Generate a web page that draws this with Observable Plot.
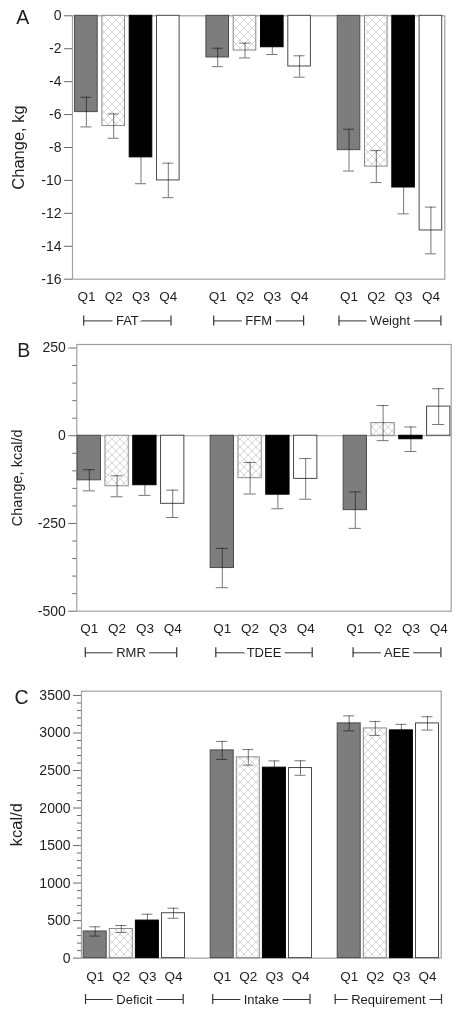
<!DOCTYPE html>
<html>
<head>
<meta charset="utf-8">
<script src="https://cdn.jsdelivr.net/npm/d3@7"></script>
<script src="https://cdn.jsdelivr.net/npm/@observablehq/plot@0.6"></script>
<style>
  html, body { margin: 0; padding: 0; background: #fff; }
  #chart svg { display: block; }
</style>
</head>
<body>
<div id="chart"></div>
<script>
// ---------- data ----------
const quartiles = ["Q1", "Q2", "Q3", "Q4"];

// Panel A: change, kg
const groupsA = ["FAT", "FFM", "Weight"];
const fatMean = [-5.85, -6.7, -8.6, -10.0];
const fatSE = [0.9, 0.74, 1.6, 1.05];
const ffmMean = [-2.53, -2.11, -1.91, -3.08];
const ffmSE = [0.56, 0.45, 0.44, 0.65];
const weightMean = [-8.16, -9.16, -10.43, -13.04];
const weightSE = [1.27, 0.97, 1.6, 1.42];
const ticksA = [-16, -14, -12, -10, -8, -6, -4, -2, 0];

// Panel B: change, kcal/d
const groupsB = ["RMR", "TDEE", "AEE"];
const rmrMean = [-127, -144, -141, -194];
const rmrSE = [30, 30, 29, 39];
const tdeeMean = [-377, -121, -168, -123];
const tdeeSE = [56, 45, 40, 58];
const aeeMean = [-212, 36, -10, 83];
const aeeSE = [52, 50, 35, 51];
const ticksB = [-500, -250, 0, 250];
const minorTicksB = [-450, -400, -350, -300, -200, -150, -100, -50, 50, 100, 150, 200];

// Panel C: kcal/d
const groupsC = ["Deficit", "Intake", "Requirement"];
const deficitMean = [355, 388, 500, 598];
const deficitSE = [62, 46, 85, 67];
const intakeMean = [2768, 2675, 2538, 2533];
const intakeSE = [120, 104, 90, 97];
const requirementMean = [3128, 3061, 3035, 3128];
const requirementSE = [100, 93, 80, 89];
const ticksC = [0, 500, 1000, 1500, 2000, 2500, 3000, 3500];
const minorTicksC = [100, 200, 300, 400, 600, 700, 800, 900, 1100, 1200, 1300, 1400,
  1600, 1700, 1800, 1900, 2100, 2200, 2300, 2400, 2600, 2700, 2800, 2900, 3100, 3200, 3300, 3400];

// ---------- styling ----------
const FONT = "'Liberation Sans', Arial, Helvetica, sans-serif";
const TEXT = "#1e1e1e";
const FRAME = "#a0a0a0";
const TICK = "#6a6a6a";
const ERR = "#777777";

function barStyles(patternId) {
  return [
    {fill: "#7d7d7d", stroke: "#4a4a4a"},
    {fill: `url(#${patternId})`, stroke: "#8a8a8a"},
    {fill: "#000000", stroke: "#000000"},
    {fill: "#ffffff", stroke: "#4a4a4a"}
  ];
}

function makePanel(cfg) {
  const s = cfg.barStep;
  const gs = cfg.groupStep / s;
  const rows = [];
  cfg.groups.forEach((g, gi) => quartiles.forEach((q, qi) => rows.push({
    group: g, q, qi, pos: gi * gs + qi, value: cfg.means[gi][qi], se: cfg.ses[gi][qi]
  })));
  const last = (cfg.groups.length - 1) * gs + quartiles.length - 1;
  const total = (462 - cfg.marginLeft - cfg.marginRight) / s;
  const pad = (total - last) / 2;
  const xDomain = [-pad, last + pad];
  const hw = cfg.barWidth / 2 / s;
  const cap = cfg.capHalf / s;
  const groupRows = cfg.groups.map((g, gi) => ({
    group: g,
    x1: gi * gs - cfg.bracketPad[gi] / s,
    x2: gi * gs + quartiles.length - 1 + cfg.bracketPad[gi] / s,
    mid: gi * gs + (quartiles.length - 1) / 2
  }));
  const ends = groupRows.flatMap(d => [{x: d.x1}, {x: d.x2}]);
  const yMin = cfg.domain[0];
  const styles = barStyles(cfg.patternId);

  const marks = [];
  marks.push(Plot.frame({stroke: FRAME, strokeWidth: 1.2}));
  if (cfg.zeroLine) marks.push(Plot.ruleY([0], {stroke: FRAME, strokeWidth: 1.2}));
  quartiles.forEach((q, qi) => {
    marks.push(Plot.rect(rows.filter(r => r.qi === qi), {
      x1: d => d.pos - hw, x2: d => d.pos + hw,
      y1: () => 0, y2: "value",
      fill: styles[qi].fill, stroke: styles[qi].stroke, strokeWidth: 1
    }));
  });
  // error bars
  marks.push(Plot.ruleX(rows, {
    x: "pos", y1: d => d.value - d.se, y2: d => d.value + d.se,
    stroke: ERR, strokeWidth: 1, mixBlendMode: "multiply"
  }));
  marks.push(Plot.ruleY(rows, {
    y: d => d.value + d.se, x1: d => d.pos - cap, x2: d => d.pos + cap,
    stroke: ERR, strokeWidth: 1, mixBlendMode: "multiply"
  }));
  marks.push(Plot.ruleY(rows, {
    y: d => d.value - d.se, x1: d => d.pos - cap, x2: d => d.pos + cap,
    stroke: ERR, strokeWidth: 1, mixBlendMode: "multiply"
  }));
  // y axis
  marks.push(Plot.axisY({
    ticks: cfg.ticks, tickSize: 8, tickPadding: 3, tickFormat: d => String(d),
    stroke: TICK, fill: TEXT, fontSize: 14, label: null
  }));
  if (cfg.minorTicks) {
    marks.push(Plot.ruleY(cfg.minorTicks, {
      y: d => d, x1: () => xDomain[0], x2: () => xDomain[0], insetLeft: -4, stroke: TICK
    }));
  }
  // quartile labels
  marks.push(Plot.text(rows, {
    x: "pos", text: "q", frameAnchor: "bottom", lineAnchor: "middle",
    dy: cfg.qDy, fontSize: 13.5, fill: TEXT
  }));
  // group brackets
  marks.push(Plot.ruleY(groupRows, {
    y: () => yMin, x1: "x1", x2: "x2", dy: cfg.bracketDy, stroke: "#333", strokeWidth: 1
  }));
  marks.push(Plot.ruleX(ends, {
    x: "x", y1: () => yMin, y2: () => yMin, insetTop: -5, insetBottom: -5,
    dy: cfg.bracketDy, stroke: "#333", strokeWidth: 1.2
  }));
  marks.push(Plot.text(groupRows, {
    x: "mid", text: "group", frameAnchor: "bottom", lineAnchor: "middle", dy: cfg.bracketDy,
    fontSize: 13, fill: TEXT, stroke: "white", strokeWidth: 9
  }));
  // panel letter and y label
  marks.push(Plot.text([cfg.letter], {
    text: d => d, frameAnchor: "top-left", textAnchor: "start", lineAnchor: "middle",
    dx: cfg.letterDx, dy: cfg.letterDy, fontSize: 19.5, fill: TEXT
  }));
  marks.push(Plot.text([cfg.yLabel], {
    text: d => d, frameAnchor: "left", rotate: -90, textAnchor: "middle", lineAnchor: "middle",
    dx: cfg.labelDx, fontSize: cfg.labelSize, fill: TEXT
  }));

  const svg = Plot.plot({
    width: 462,
    height: cfg.height,
    marginTop: cfg.marginTop,
    marginBottom: cfg.marginBottom,
    marginLeft: cfg.marginLeft,
    marginRight: cfg.marginRight,
    style: {fontFamily: FONT, fontSize: "14px", color: TEXT, background: "white"},
    x: {type: "linear", domain: xDomain, axis: null},
    y: {domain: cfg.domain, axis: null},
    marks
  });

  d3.select(svg).insert("defs", ":first-child").html(
    `<pattern id="${cfg.patternId}" patternUnits="userSpaceOnUse" width="8" height="8">
       <rect width="8" height="8" fill="white"/>
       <path d="M-1,-1L9,9M9,-1L-1,9" stroke="#cdcdcd" stroke-width="0.8" fill="none"/>
     </pattern>`
  );
  return svg;
}

const chart = document.getElementById("chart");

chart.appendChild(makePanel({
  letter: "A", yLabel: "Change, kg", labelSize: 16.5,
  groups: groupsA,
  means: [fatMean, ffmMean, weightMean],
  ses: [fatSE, ffmSE, weightSE],
  domain: [-16, 0], ticks: ticksA, minorTicks: null, zeroLine: false,
  height: 335, marginTop: 15.3, marginBottom: 56.3, marginLeft: 72, marginRight: 17.7,
  barStep: 27.3, groupStep: 131.3, barWidth: 22.6, capHalf: 5.5,
  bracketPad: [2.7, 4, 10],
  letterDx: -56.3, letterDy: 1.7, labelDx: -53.7,
  qDy: 17, bracketDy: 41.7, patternId: "hatchA"
}));

chart.appendChild(makePanel({
  letter: "B", yLabel: "Change, kcal/d", labelSize: 14.5,
  groups: groupsB,
  means: [rmrMean, tdeeMean, aeeMean],
  ses: [rmrSE, tdeeSE, aeeSE],
  domain: [-500, 260], ticks: ticksB, minorTicks: minorTicksB, zeroLine: true,
  height: 335, marginTop: 9, marginBottom: 59.3, marginLeft: 76.3, marginRight: 11.3,
  barStep: 27.8, groupStep: 133, barWidth: 23.3, capHalf: 6,
  bracketPad: [4, 6.5, 2.2],
  letterDx: -59.6, letterDy: 6, labelDx: -59.6,
  qDy: 17.6, bracketDy: 41.6, patternId: "hatchB"
}));

chart.appendChild(makePanel({
  letter: "C", yLabel: "kcal/d", labelSize: 16.5,
  groups: groupsC,
  means: [deficitMean, intakeMean, requirementMean],
  ses: [deficitSE, intakeSE, requirementSE],
  domain: [0, 3557], ticks: ticksC, minorTicks: minorTicksC, zeroLine: false,
  height: 346, marginTop: 20.7, marginBottom: 58.4, marginLeft: 81, marginRight: 21.3,
  barStep: 26.1, groupStep: 127, barWidth: 23, capHalf: 5.5,
  bracketPad: [9.7, 9.5, 14],
  letterDx: -67, letterDy: 6.3, labelDx: -64.3,
  qDy: 18.4, bracketDy: 41.4, patternId: "hatchC"
}));
</script>
</body>
</html>
